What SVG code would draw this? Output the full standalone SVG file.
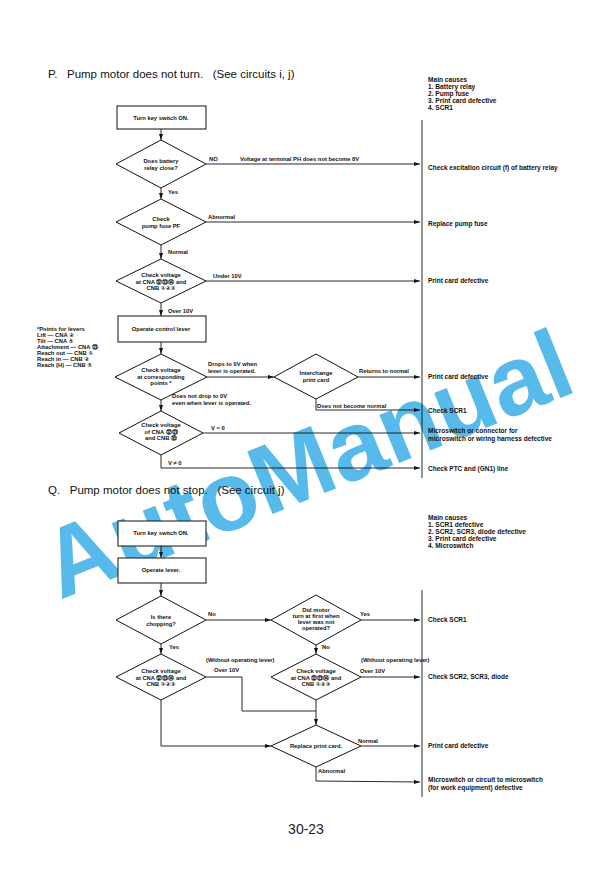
<svg xmlns="http://www.w3.org/2000/svg" width="612" height="881" viewBox="0 0 612 881">
<defs>
<marker id="ah" markerWidth="6" markerHeight="4" refX="6" refY="2" orient="auto" markerUnits="userSpaceOnUse">
<path d="M0,0 L6,2 L0,4 Z" fill="#111"/>
</marker>
<style>
.s{fill:#fff;stroke:#111;stroke-width:1}
.c{fill:none;stroke:#111;stroke-width:0.9}
.a{marker-end:url(#ah)}
.t{font-family:"Liberation Sans","DejaVu Sans",sans-serif;font-size:5.8px;font-weight:bold;fill:#111}
.r{font-size:6.5px}
.k{font-size:6.6px}
.m{text-anchor:middle}
.h{font-family:"Liberation Sans","DejaVu Sans",sans-serif;font-size:11.5px;fill:#111;white-space:pre}
</style>
</defs>
<rect width="612" height="881" fill="#fff"/>

<text class="h" x="48" y="78" xml:space="preserve">P.   Pump motor does not turn.   (See circuits i, j)</text>
<g id="p_causes" class="t k">
<text x="428" y="82">Main causes</text>
<text x="428" y="89">1.  Battery relay</text>
<text x="428" y="96">2.  Pump fuse</text>
<text x="428" y="103">3.  Print card defective</text>
<text x="428" y="110">4.  SCR1</text>
</g>
<g id="p_notes" class="t">
<text x="37" y="331">*Points for levers</text>
<text x="37" y="337">Lift — CNA ②</text>
<text x="37" y="343">Tilt — CNA ⑤</text>
<text x="37" y="349">Attachment — CNA ⑬</text>
<text x="37" y="355">Reach out — CNB ①</text>
<text x="37" y="361">Reach in — CNB ②</text>
<text x="37" y="367">Reach (H) — CNB ⑤</text>
</g>

<text x="0" y="0" transform="translate(60,600) rotate(-22)" font-family="Liberation Sans, sans-serif" font-size="98" font-weight="bold" fill="#3aaee6" fill-opacity="0.85" textLength="560" lengthAdjust="spacingAndGlyphs">AutoManual</text>

<g id="connectors">
<line class="c" x1="422" y1="120" x2="422" y2="478"/>
<line class="c a" x1="161" y1="129" x2="161" y2="140"/>
<line class="c a" x1="206" y1="164" x2="420" y2="164"/>
<line class="c a" x1="161" y1="188" x2="161" y2="199"/>
<line class="c a" x1="206" y1="222" x2="420" y2="222"/>
<line class="c a" x1="161" y1="245" x2="161" y2="259"/>
<line class="c a" x1="206" y1="281" x2="420" y2="281"/>
<line class="c a" x1="161" y1="303" x2="161" y2="316"/>
<line class="c a" x1="161" y1="342" x2="161" y2="354"/>
<line class="c a" x1="207" y1="377" x2="274" y2="377"/>
<line class="c a" x1="358" y1="377" x2="420" y2="377"/>
<polyline class="c a" points="316,399 316,410 420,410"/>
<line class="c a" x1="161" y1="400" x2="161" y2="411"/>
<line class="c a" x1="203" y1="433" x2="420" y2="433"/>
<polyline class="c a" points="161,455 161,468 420,468"/>

<line class="c" x1="422" y1="590" x2="422" y2="797"/>
<line class="c a" x1="161" y1="546" x2="161" y2="558"/>
<line class="c a" x1="161" y1="583" x2="161" y2="596"/>
<line class="c a" x1="206" y1="620" x2="271" y2="620"/>
<line class="c a" x1="361" y1="620" x2="420" y2="620"/>
<line class="c a" x1="161" y1="644" x2="161" y2="654"/>
<line class="c a" x1="316" y1="645" x2="316" y2="654"/>
<polyline class="c" points="206,677 242,677 242,711 316,711"/>
<line class="c a" x1="361" y1="677" x2="420" y2="677"/>
<line class="c a" x1="316" y1="700" x2="316" y2="725"/>
<polyline class="c a" points="161,700 161,746 271,746"/>
<line class="c a" x1="361" y1="746" x2="420" y2="746"/>
<polyline class="c a" points="316,767 316,781 420,782"/>
</g>

<g id="p_labels" class="t">
<text x="209" y="161">NO</text>
<text x="240" y="161">Voltage at terminal PH does not become 8V</text>
<text x="168" y="194">Yes</text>
<text x="208" y="219">Abnormal</text>
<text x="168" y="254">Normal</text>
<text x="213" y="278">Under 10V</text>
<text x="168" y="313">Over 10V</text>
<text x="208" y="366">Drops to 0V when</text>
<text x="208" y="373">lever is operated.</text>
<text x="359" y="373">Returns to normal</text>
<text x="317" y="408">Does not become normal</text>
<text x="172" y="398">Does not drop to 0V</text>
<text x="172" y="405">even when lever is operated.</text>
<text x="211" y="430">V = 0</text>
<text x="168" y="465">V ≠ 0</text>
</g>

<g id="p_results" class="t r">
<text x="428" y="170">Check excitation circuit (f) of battery relay</text>
<text x="428" y="226">Replace pump fuse</text>
<text x="428" y="283">Print card defective</text>
<text x="428" y="379">Print card defective</text>
<text x="428" y="413">Check SCR1</text>
<text x="428" y="433">Microswitch or connector for</text>
<text x="428" y="441">microswitch or wiring harness defective</text>
<text x="428" y="471">Check PTC and (GN1) line</text>
</g>

<g id="p_start"><rect class="s" x="117" y="106" width="89" height="23"/><text class="t m" x="161" y="120">Turn key switch ON.</text></g>
<g id="p_relay"><polygon class="s" points="161,140 206,164 161,188 116,164"/><text class="t m" x="161" y="163">Does battery</text><text class="t m" x="161" y="169.5">relay close?</text></g>
<g id="p_fuse"><polygon class="s" points="161,199 206,222 161,245 116,222"/><text class="t m" x="161" y="221">Check</text><text class="t m" x="161" y="227.5">pump fuse PF</text></g>
<g id="p_volt1"><polygon class="s" points="161,259 206,281 161,303 116,281"/><text class="t m" x="161" y="277">Check voltage</text><text class="t m" x="161" y="283.5">at CNA ⑫⑬⑭ and</text><text class="t m" x="161" y="290">CNB ①②③</text></g>
<g id="p_lever"><rect class="s" x="118" y="316" width="88" height="26"/><text class="t m" x="161" y="331">Operate control lever</text></g>
<g id="p_points"><polygon class="s" points="161,354 207,377 161,400 115,377"/><text class="t m" x="161" y="372">Check voltage</text><text class="t m" x="161" y="378.5">at corresponding</text><text class="t m" x="161" y="385">points *</text></g>
<g id="p_card"><polygon class="s" points="316,354 358,377 316,399 274,377"/><text class="t m" x="316" y="375">Interchange</text><text class="t m" x="316" y="381.5">print card</text></g>
<g id="p_volt2"><polygon class="s" points="161,411 203,433 161,455 119,433"/><text class="t m" x="161" y="427">Check voltage</text><text class="t m" x="161" y="433.5">of CNA ⑫⑬</text><text class="t m" x="161" y="440">and CNB ⑮</text></g>

<text class="h" x="48" y="494" xml:space="preserve">Q.   Pump motor does not stop.   (See circuit j)</text>
<g id="q_causes" class="t k">
<text x="428" y="520">Main causes</text>
<text x="428" y="527">1.  SCR1 defective</text>
<text x="428" y="534">2.  SCR2, SCR3, diode defective</text>
<text x="428" y="541">3.  Print card defective</text>
<text x="428" y="548">4.  Microswitch</text>
</g>

<g id="q_labels" class="t">
<text x="208" y="616">No</text>
<text x="360" y="616">Yes</text>
<text x="169" y="649">Yes</text>
<text x="322" y="649">No</text>
<text x="206" y="662">(Without operating lever)</text>
<text x="214" y="672">Over 10V</text>
<text x="361" y="662">(Without operating lever)</text>
<text x="360" y="673">Over 10V</text>
<text x="358" y="743">Normal</text>
<text x="318" y="773">Abnormal</text>
</g>
<g id="q_results" class="t r">
<text x="428" y="622">Check SCR1</text>
<text x="428" y="679">Check SCR2, SCR3, diode</text>
<text x="428" y="748">Print card defective</text>
<text x="428" y="782">Microswitch or circuit to microswitch</text>
<text x="428" y="790">(for work equipment) defective</text>
</g>

<g id="q_start"><rect class="s" x="118" y="521" width="88" height="25"/><text class="t m" x="161" y="535">Turn key switch ON.</text></g>
<g id="q_lever"><rect class="s" x="118" y="558" width="88" height="25"/><text class="t m" x="161" y="572">Operate lever.</text></g>
<g id="q_chop"><polygon class="s" points="161,596 206,620 161,644 116,620"/><text class="t m" x="161" y="619">Is there</text><text class="t m" x="161" y="625.5">chopping?</text></g>
<g id="q_motor"><polygon class="s" points="316,595 361,620 316,645 271,620"/><text class="t m" x="316" y="612">Did motor</text><text class="t m" x="316" y="618">turn at first when</text><text class="t m" x="316" y="624">lever was not</text><text class="t m" x="316" y="630">operated?</text></g>
<g id="q_volt1"><polygon class="s" points="161,654 206,677 161,700 116,677"/><text class="t m" x="161" y="673">Check voltage</text><text class="t m" x="161" y="679.5">at CNA ⑫⑬⑭ and</text><text class="t m" x="161" y="686">CNB ①②③</text></g>
<g id="q_volt2"><polygon class="s" points="316,654 361,677 316,700 271,677"/><text class="t m" x="316" y="673">Check voltage</text><text class="t m" x="316" y="679.5">at CNA ⑫⑬⑭ and</text><text class="t m" x="316" y="686">CNB ①②③</text></g>
<g id="q_card"><polygon class="s" points="316,725 361,746 316,767 271,746"/><text class="t m" x="316" y="748">Replace print card.</text></g>

<text x="306" y="834" text-anchor="middle" font-family="Liberation Sans, sans-serif" font-size="14" fill="#222">30-23</text>
</svg>
